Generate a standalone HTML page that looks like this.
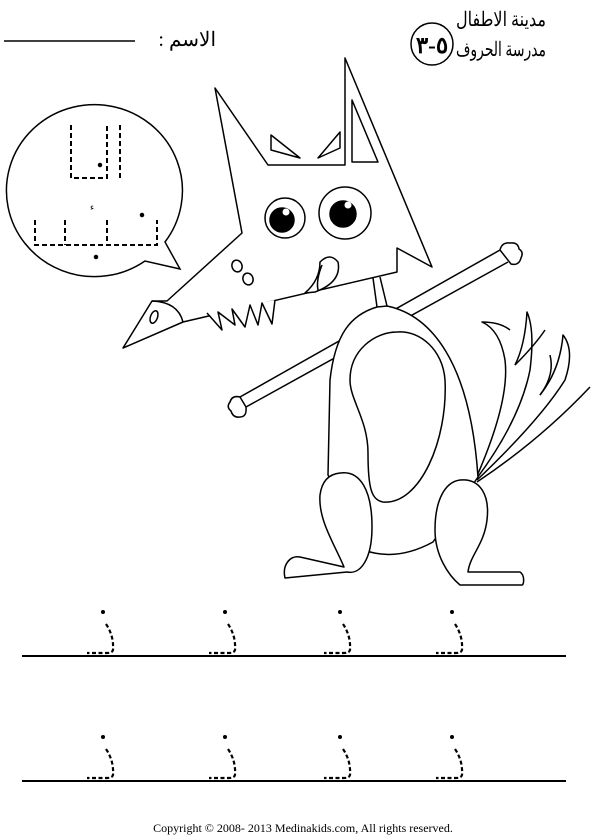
<!DOCTYPE html>
<html><head><meta charset="utf-8">
<style>
html,body{margin:0;padding:0;background:#fff;}
svg{display:block;}
text{font-family:"Liberation Serif","Noto Serif CJK SC","DejaVu Serif",serif;}
</style></head>
<body>
<svg width="593" height="838" viewBox="0 0 593 838" xmlns="http://www.w3.org/2000/svg">
<g>
<text x="456" y="26" font-size="20" textLength="90" lengthAdjust="spacingAndGlyphs">مدينة الاطفال</text>
<text x="456" y="56" font-size="20" textLength="90" lengthAdjust="spacingAndGlyphs">مدرسة الحروف</text>
<circle cx="432" cy="44" r="21" fill="none" stroke="#000" stroke-width="1.5"/>
<text x="432" y="53" font-size="23" font-weight="bold" text-anchor="middle" font-family="Liberation Sans, DejaVu Sans, sans-serif">&#x202D;٣-٥&#x202C;</text>
<text x="216" y="46" font-size="20" text-anchor="end">: الاسم</text>
<line x1="4" y1="41" x2="135" y2="41" stroke="#000" stroke-width="1.5"/>
</g>

<g fill="none" stroke="#000" stroke-width="1.5">
<path d="M165,242 A88,86 0 1 0 145,261 L180,269 Z" fill="#fff"/>
<g stroke-dasharray="5,3" stroke-width="2">
<path d="M71,125 V178 H107 V125"/>
<path d="M120,125 V178" />
<path d="M35,220 V245 H157 V220 M65,220 V245 M107,220 V245"/>
</g>
<circle cx="100" cy="165" r="1.5" fill="#000"/>
<circle cx="142" cy="215" r="1.5" fill="#000"/>
<circle cx="96" cy="257" r="1.5" fill="#000"/>
<text x="90" y="210" font-size="9" stroke="none" fill="#000">ء</text>
</g>

<g fill="none" stroke="#000" stroke-width="1.5" stroke-linejoin="round">
<path d="M500,250 L240,397 M508,262 L246,407"/>
<path d="M500,250 q2,-8 10,-7 q8,-1 9,6 q5,3 2,9 q-2,8 -10,6 z" fill="#fff"/>
<path d="M240,397 q-8,-2 -10,5 q-4,5 1,9 q2,7 9,6 q7,0 6,-10 z" fill="#fff"/>
<g>
<path d="M477,482 Q540,440 590,387"/>
<path d="M477,480 Q540,420 565,380 Q575,350 563,335 Q560,370 540,395"/>
<path d="M477,478 Q520,420 530,370 Q535,330 527,312 Q525,345 515,365"/>
<path d="M477,476 Q510,400 505,360 Q500,330 482,322 Q500,322 510,330"/>
<path d="M540,395 Q555,375 550,355 M515,365 Q535,345 545,330"/>
</g>
<path d="M377,307 C350,315 335,335 330,380 L328,475 L370,552 Q400,560 433,542 L478,477 C470,360 430,315 387,306 Z" fill="#fff"/>
<path d="M397,332 C420,330 443,350 445,380 C448,440 420,505 383,502 C372,500 368,490 368,453 C368,420 350,400 350,380 C350,350 375,332 397,332 Z"/>
<path d="M340,473 C360,470 372,490 372,527 C372,560 360,575 347,572 L285,578 C282,565 290,555 300,557 L344,567 C335,545 318,520 320,495 C322,480 330,474 340,473 Z" fill="#fff"/>
<path d="M460,480 C480,478 490,495 487,520 C484,545 470,555 468,572 L520,572 C525,575 524,585 522,585 L460,585 C448,575 435,555 435,530 C435,500 445,482 460,480 Z" fill="#fff"/>
<path d="M373,278 L377,307 M380,277 L387,306"/>
<path d="M215,88 L242,233 L167,301 L152,301 L123,348 L183,322 L397,272 L397,248 L432,267 L345,58 L345,165 L268,165 Z" fill="#fff"/>
<path d="M152,301 Q178,302 183,322" />
<ellipse cx="154" cy="317" rx="3.5" ry="6.5" transform="rotate(20 154 317)"/>
<path d="M352,100 L352,162 L378,162 Z"/>
<path d="M271,135 L271,150 L300,158 Z"/>
<path d="M318,158 L340,132 L340,148 Z"/>
<circle cx="285" cy="218" r="20" fill="#fff"/>
<circle cx="282" cy="220" r="12" fill="#000"/>
<circle cx="286" cy="212" r="3.5" fill="#fff" stroke="none"/>
<circle cx="345" cy="213" r="26" fill="#fff"/>
<circle cx="343" cy="214" r="13" fill="#000"/>
<circle cx="348" cy="205" r="3.5" fill="#fff" stroke="none"/>
<ellipse cx="237" cy="266" rx="5" ry="6" transform="rotate(-20 237 266)"/>
<ellipse cx="248" cy="279" rx="5" ry="6" transform="rotate(-20 248 279)"/>
<path d="M305,293 Q320,280 320,262 Q330,252 338,262 Q342,282 315,292 Z M322,265 Q316,280 318,290" fill="#fff"/>
<path d="M207,313 L222,330 L218,312 L235,325 L232,309 L245,327 L250,305 L258,325 L262,303 L272,324 L275,300" fill="#fff"/>
</g>

<g>
<line x1="22" y1="656" x2="566" y2="656" stroke="#000" stroke-width="2"/>
<line x1="22" y1="781" x2="566" y2="781" stroke="#000" stroke-width="2"/>
</g>
<g id="letters"></g>

<text x="303" y="832" font-size="12" text-anchor="middle" font-family="Liberation Sans, sans-serif">Copyright © 2008- 2013 Medinakids.com, All rights reserved.</text>
</svg>
<script>
const letterXs=[103,225,340,452];
const rowYs=[656,781];
const g=document.getElementById('letters');
const ns='http://www.w3.org/2000/svg';
rowYs.forEach(function(y){letterXs.forEach(function(x){
 const d=document.createElementNS(ns,'circle');
 d.setAttribute('cx',x);d.setAttribute('cy',y-44);d.setAttribute('r',2);d.setAttribute('fill','#000');
 
 
 g.appendChild(d);
 const p=document.createElementNS(ns,'path');
 p.setAttribute('d','M'+(x+3)+','+(y-32)+' Q'+(x+11)+','+(y-20)+' '+(x+10)+','+(y-6)+' Q'+(x+9)+','+(y-3)+' '+(x+4)+','+(y-3)+' L'+(x-16)+','+(y-3));
 p.setAttribute('fill','none');p.setAttribute('stroke','#000');p.setAttribute('stroke-width','2.2');p.setAttribute('stroke-dasharray','4,2.5');
 
 
 g.appendChild(p);
});});
</script>
</body></html>
